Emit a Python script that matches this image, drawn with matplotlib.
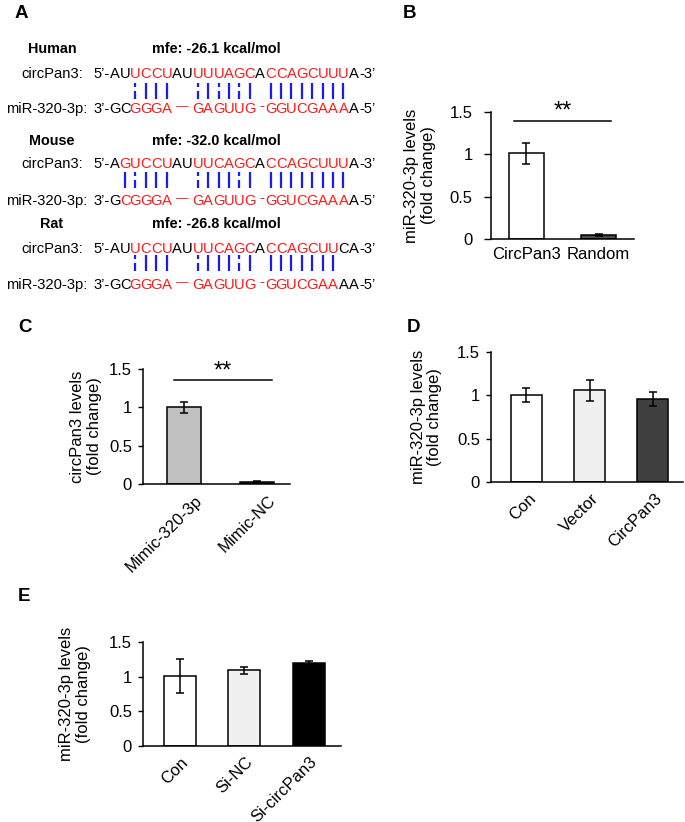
import numpy as np
import matplotlib
matplotlib.use("Agg")
import matplotlib.pyplot as plt
from matplotlib.transforms import ScaledTranslation

plt.rcParams['font.family'] = ['Liberation Sans', 'DejaVu Sans']

# ---------------- data ----------------
species = ["Human", "Mouse", "Rat"]
mfe_values = [-26.1, -32.0, -26.8]
circ_seqs = ["AUUCCUAUUUUAGCACCAGCUUUA",
             "AGUCCUAUUUCAGCACCAGCUUUA",
             "AUUCCUAUUUCAGCACCAGCUUCA"]
mir_seqs = ["GCGGGA__GAGUUG_GGUCGAAAA",
            "GCGGGA__GAGUUG_GGUCGAAAA",
            "GCGGGA__GAGUUG_GGUCGAAAA"]
# indices of the binding region (red, paired)
binding_idx = [list(range(2, 6)) + list(range(8, 14)) + list(range(15, 23)),
               list(range(1, 6)) + list(range(8, 14)) + list(range(15, 23)),
               list(range(2, 6)) + list(range(8, 14)) + list(range(15, 22))]

b_cats = ["CircPan3", "Random"]
b_vals = [1.01, 0.05]
b_errs = [0.12, 0.01]

c_cats = ["Mimic-320-3p", "Mimic-NC"]
c_vals = [1.00, 0.03]
c_errs = [0.07, 0.01]

d_cats = ["Con", "Vector", "CircPan3"]
d_vals = [1.00, 1.06, 0.96]
d_errs = [0.08, 0.12, 0.08]

e_cats = ["Con", "Si-NC", "Si-circPan3"]
e_vals = [1.01, 1.09, 1.20]
e_errs = [0.25, 0.05, 0.03]

yticks = [0, 0.5, 1, 1.5]
yticklabels = ["0", "0.5", "1", "1.5"]

# ---------------- figure ----------------
W, H = 685, 822
fig = plt.figure(figsize=(W / 100, H / 100), dpi=100)

ax0 = fig.add_axes([0, 0, 1, 1])
ax0.set_xlim(0, W)
ax0.set_ylim(H, 0)
ax0.axis('off')

RED = "#ff1a1a"
BLUE = "#1a1aff"
SEQ_FS = 10.6
LAB_FS = 10.6

def cx(i):
    return 135.5 + (i - 2) * 10.4

label_base = [53, 145, 228]
circ_base = [78, 168, 253]
mir_base = [113, 205, 289]
pair_top = [83, 172, 255]
pair_bot = [99, 188, 271]

for k in range(3):
    ax0.text(52, label_base[k], species[k], ha='center', va='baseline',
             fontsize=10.4, fontweight='bold')
    ax0.text(216, label_base[k], f"mfe: {mfe_values[k]:.1f} kcal/mol",
             ha='center', va='baseline', fontsize=10.4, fontweight='bold')
    ax0.text(83, circ_base[k], "circPan3:", ha='right', va='baseline', fontsize=LAB_FS)
    ax0.text(87.5, mir_base[k], "miR-320-3p:", ha='right', va='baseline', fontsize=LAB_FS)
    cs, ms, red = circ_seqs[k], mir_seqs[k], set(binding_idx[k])
    n = len(cs)
    ax0.text(cx(0) - 5.0, circ_base[k], "5\u2019-", ha='right', va='baseline', fontsize=SEQ_FS)
    ax0.text(cx(n - 1) + 5.0, circ_base[k], "-3\u2019", ha='left', va='baseline', fontsize=SEQ_FS)
    ax0.text(cx(0) - 5.0, mir_base[k], "3\u2019-", ha='right', va='baseline', fontsize=SEQ_FS)
    ax0.text(cx(n - 1) + 5.0, mir_base[k], "-5\u2019", ha='left', va='baseline', fontsize=SEQ_FS)
    for i, ch in enumerate(cs):
        ax0.text(cx(i), circ_base[k], ch, ha='center', va='baseline', fontsize=SEQ_FS,
                 color=RED if i in red else 'black')
    i = 0
    while i < n:
        ch = ms[i]
        if ch == '_':
            j = i
            while j + 1 < n and ms[j + 1] == '_':
                j += 1
            mid = (cx(i) + cx(j)) / 2
            if j > i:
                ax0.text(mid, mir_base[k] - 3, "\u2014", ha='center', va='baseline',
                         fontsize=SEQ_FS - 1.6, color=RED)
            else:
                ax0.text(mid + 1.5, mir_base[k] - 2.5, "-", ha='center', va='baseline',
                         fontsize=SEQ_FS, color=RED)
            i = j + 1
            continue
        ax0.text(cx(i), mir_base[k], ch, ha='center', va='baseline', fontsize=SEQ_FS,
                 color=RED if i in red else 'black')
        i += 1
    # pairing lines
    for i in binding_idx[k]:
        pair = {cs[i], ms[i]}
        x = cx(i)
        y0, y1 = pair_top[k], pair_bot[k]
        if pair == {'G', 'U'}:
            ax0.plot([x, x], [y0, y0 + 4.5], color=BLUE, lw=1.6, solid_capstyle='butt')
            ax0.plot([x, x], [y0 + 8, y1], color=BLUE, lw=1.6, solid_capstyle='butt')
        else:
            ax0.plot([x, x], [y0, y1], color=BLUE, lw=1.6, solid_capstyle='butt')

# panel letters
for letter, (x, y) in zip("ABCDE", [(15, 18), (403, 18), (18, 332), (407, 332), (18, 601)]):
    ax0.text(x, y, letter, ha='left', va='baseline', fontsize=13.5, fontweight='bold')


def add_ax(left, bottom, width, height):
    return fig.add_axes([left / W, 1 - bottom / H, width / W, height / H])


def bar_panel(ax, cats, vals, errs, colors, width, xlim, ylabel, ylab_x,
              rot=True, tlen=3.6, tpad=4.3, xpad=10, dx=0):
    x = np.arange(len(cats))
    ax.bar(x, vals, width, color=colors, edgecolor='black', linewidth=1.1, zorder=2)
    ax.errorbar(x, vals, yerr=errs, fmt='none', ecolor='black', elinewidth=1.1,
                capsize=2.6, capthick=1.1, zorder=3)
    ax.set_xlim(*xlim)
    ax.set_ylim(0, 1.5)
    ax.set_yticks(yticks)
    ax.set_yticklabels(yticklabels)
    for s in ['top', 'right']:
        ax.spines[s].set_visible(False)
    for s in ['left', 'bottom']:
        ax.spines[s].set_linewidth(1.1)
    ax.tick_params(axis='y', direction='out', length=tlen, width=1.0, pad=tpad, labelsize=12)
    ax.tick_params(axis='x', length=0, pad=xpad, labelsize=12)
    ax.set_xticks(x)
    if rot:
        labs = ax.set_xticklabels(cats, rotation=45, ha='right', va='center',
                                  rotation_mode='anchor')
        off = ScaledTranslation(dx / 100, 0, fig.dpi_scale_trans)
        for t in labs:
            t.set_transform(t.get_transform() + off)
    else:
        ax.set_xticklabels(cats)
    ax.set_ylabel(ylabel, fontsize=12, va='center', linespacing=1.15)
    ax.yaxis.set_label_coords(ylab_x, 0.5)
    ax.patch.set_alpha(0)


axB = add_ax(491, 239, 143, 127)
bar_panel(axB, b_cats, b_vals, b_errs, ["white", "#4d4d4d"], 0.49, (-0.493, 1.493),
          "miR-320-3p levels\n(fold change)", -0.497, rot=False, tlen=4.8, tpad=8.4, xpad=5.5)
axB.plot([-0.17, 1.17], [1.39, 1.39], color='black', lw=1.1, clip_on=False)
axB.text(0.5, 1.50, "**", ha='center', va='center', fontsize=17, clip_on=False)

axC = add_ax(143, 484, 147, 115)
bar_panel(axC, c_cats, c_vals, c_errs, ["#c0c0c0", "#333333"], 0.47, (-0.56, 1.45),
          "circPan3 levels\n(fold change)", -0.388, dx=16)
axC.plot([-0.14, 1.2], [1.36, 1.36], color='black', lw=1.1, clip_on=False)
axC.text(0.53, 1.47, "**", ha='center', va='center', fontsize=17, clip_on=False)

axD = add_ax(491, 482, 192, 130)
bar_panel(axD, d_cats, d_vals, d_errs, ["white", "#f0f0f0", "#404040"], 0.5, (-0.56, 2.48),
          "miR-320-3p levels\n(fold change)", -0.336, dx=7)

axE = add_ax(143, 746, 198, 104)
bar_panel(axE, e_cats, e_vals, e_errs, ["white", "#f0f0f0", "black"], 0.5, (-0.57, 2.5),
          "miR-320-3p levels\n(fold change)", -0.343, dx=6)

fig.savefig("out.png", dpi=100)
